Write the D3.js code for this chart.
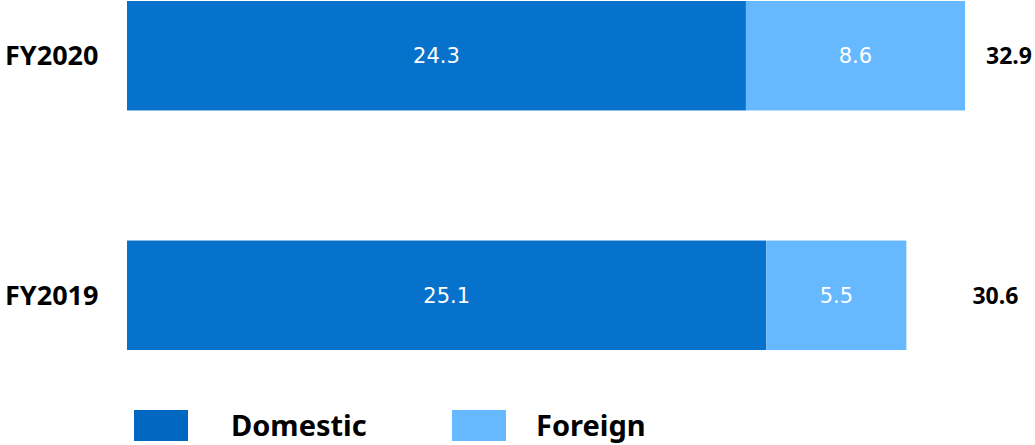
<!DOCTYPE html>
<html>
<head>
<meta charset="utf-8">
<script src="https://cdn.jsdelivr.net/npm/d3@7"></script>
<style>
  body { margin: 0; background: #fff; }
</style>
</head>
<body>
<div id="chart"></div>
<script>
// Revenue split by year, stacked horizontal bars

const years = ["FY2020", "FY2019"];
const domestic = [24.3, 25.1];
const foreign = [8.6, 5.5];
const totals = [32.9, 30.6];
const seriesNames = ["Domestic", "Foreign"];

const width = 1035, height = 445;
const colors = ["#0772cc", "#66b8ff"];
const boldFont = "'Noto Sans', 'DejaVu Sans', sans-serif";

const svg = d3.select("#chart")
    .append("svg")
    .attr("width", width)
    .attr("height", height);

// x scale: ~25.47px per unit, starting at 127
const x = d3.scaleLinear()
    .domain([0, 35])
    .range([127, 127 + 35 * 25.47]);

const y = d3.scaleBand()
    .domain(years)
    .range([1, 350])
    .paddingInner(0.543)
    .paddingOuter(0);

// build stacked rows
const rows = years.map((yr, i) => ({ year: yr, Domestic: domestic[i], Foreign: foreign[i], total: totals[i] }));
const stack = d3.stack().keys(seriesNames)(rows);

const layers = svg.selectAll("g.layer")
    .data(stack)
    .enter().append("g")
    .attr("class", "layer")
    .attr("fill", (d, i) => colors[i]);

layers.selectAll("rect")
    .data(d => d)
    .enter().append("rect")
    .attr("x", d => x(d[0]))
    .attr("y", d => y(d.data.year))
    .attr("width", d => x(d[1]) - x(d[0]))
    .attr("height", y.bandwidth());

// value labels inside the bars
layers.selectAll("text")
    .data(d => d)
    .enter().append("text")
    .attr("x", d => (x(d[0]) + x(d[1])) / 2)
    .attr("y", d => y(d.data.year) + y.bandwidth() / 2)
    .attr("dy", "0.36em")
    .attr("text-anchor", "middle")
    .style("font-family", "'DejaVu Sans', sans-serif")
    .style("font-size", "21px")
    .style("fill", "#fff")
    .text(d => d3.format(".1f")(d[1] - d[0]));

// category labels on the left
svg.selectAll("text.cat")
    .data(years)
    .enter().append("text")
    .attr("class", "cat")
    .attr("x", 5)
    .attr("y", d => y(d) + y.bandwidth() / 2)
    .attr("dy", "0.36em")
    .style("font-family", boldFont)
    .style("font-weight", "bold")
    .style("font-size", "27px")
    .style("fill", "#000")
    .text(d => d);

// totals to the right of the bars (the source places them unevenly)
const totalPad = [44, 89];
svg.selectAll("text.total")
    .data(rows)
    .enter().append("text")
    .attr("class", "total")
    .attr("x", (d, i) => x(d.total) + totalPad[i])
    .attr("y", d => y(d.year) + y.bandwidth() / 2)
    .attr("dy", "0.36em")
    .attr("text-anchor", "middle")
    .style("font-family", boldFont)
    .style("font-weight", "bold")
    .style("font-size", "23px")
    .style("fill", "#000")
    .text(d => d3.format(".1f")(d.total));

// legend
const legendX = [134, 452];
const legend = svg.selectAll("g.legend")
    .data(seriesNames)
    .enter().append("g")
    .attr("class", "legend")
    .attr("transform", (d, i) => `translate(${legendX[i]},410)`);

legend.append("rect")
    .attr("width", 54)
    .attr("height", 31)
    .attr("fill", (d, i) => i === 0 ? "#0068c0" : colors[1]);

legend.append("text")
    .attr("x", (d, i) => i === 0 ? 97 : 84)
    .attr("y", 16)
    .attr("dy", "0.36em")
    .style("font-family", boldFont)
    .style("font-weight", "bold")
    .style("font-size", "29px")
    .style("fill", "#000")
    .text(d => d);
</script>
</body>
</html>
